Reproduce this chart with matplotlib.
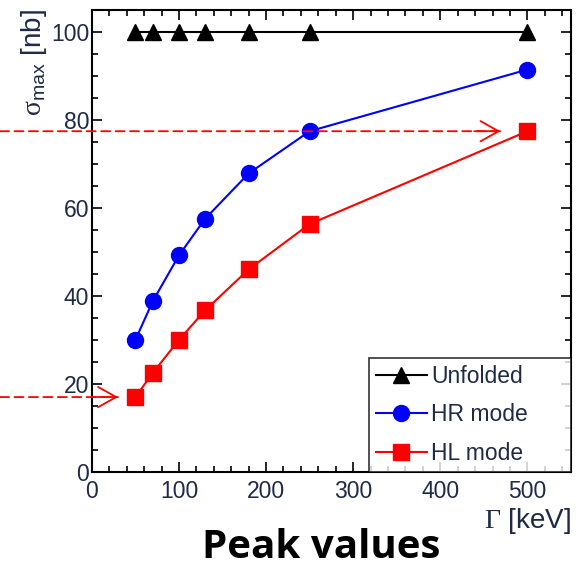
import matplotlib
matplotlib.use("Agg")
import matplotlib.pyplot as plt
from matplotlib.ticker import MultipleLocator

plt.rcParams['font.family'] = ['Liberation Sans', 'DejaVu Sans']
plt.rcParams['mathtext.fontset'] = 'custom'
plt.rcParams['mathtext.rm'] = 'Liberation Sans'
plt.rcParams['mathtext.sf'] = 'Liberation Sans'
plt.rcParams['mathtext.tt'] = 'Liberation Serif'

# Resonance width (keV) and peak cross sections (nb)
gamma_kev = [50, 70, 100, 130, 180, 250, 500]
unfolded = [100, 100, 100, 100, 100, 100, 100]
hr_mode = [30.0, 38.8, 49.2, 57.5, 67.8, 77.4, 91.4]
hl_mode = [17.0, 22.5, 30.0, 36.7, 46.0, 56.3, 77.4]

tick_color = '#1f2a44'

fig = plt.figure(figsize=(5.85, 5.72), dpi=100)
ax = fig.add_axes([0.157, 0.175, 0.819, 0.808])

ax.plot(gamma_kev, unfolded, '-^', color='black', lw=1.5, ms=11, label='Unfolded')
ax.plot(gamma_kev, hr_mode, '-o', color='blue', lw=1.5, ms=11.5, label='HR mode')
ax.plot(gamma_kev, hl_mode, '-s', color='red', lw=1.5, ms=11, label='HL mode')

ax.set_xlim(0, 550)
ax.set_ylim(0, 105)
ax.xaxis.set_major_locator(MultipleLocator(100))
ax.xaxis.set_minor_locator(MultipleLocator(20))
ax.yaxis.set_major_locator(MultipleLocator(20))
ax.yaxis.set_minor_locator(MultipleLocator(5))
ax.tick_params(which='both', direction='in', top=True, right=True,
               labelsize=16.5, labelcolor=tick_color, width=1.2)
ax.tick_params(which='major', length=7)
ax.tick_params(which='minor', length=4)
ax.tick_params(axis='x', pad=6)
ax.tick_params(axis='y', pad=2)
for sp in ax.spines.values():
    sp.set_linewidth(1.5)

ax.set_xlabel(r'$\mathtt{\Gamma}$ [keV]', fontsize=20, color=tick_color, loc='right',
              labelpad=2)
ax.set_ylabel(r'$\mathtt{\sigma}_{\mathsf{max}}$ [nb]', fontsize=20, color=tick_color,
              loc='top', labelpad=1)

leg = ax.legend(loc='lower left', bbox_to_anchor=(0.578, 0.0, 0.422, 0.25),
                mode='expand', fontsize=16.5, frameon=True, fancybox=False,
                borderaxespad=0, handlelength=2.2, handletextpad=0.2,
                labelspacing=0.66, borderpad=0.32, labelcolor=tick_color)
leg.get_frame().set_edgecolor('black')
leg.get_frame().set_linewidth(1.2)

# Dashed guide arrows marking the peak values
def guide_arrow(y, x_tip):
    ax.annotate('', xy=(x_tip, y), xytext=(0.0, y), xycoords='data',
                textcoords=('figure fraction', 'data'), annotation_clip=False,
                arrowprops=dict(arrowstyle='-', color='red', lw=1.3,
                                linestyle=(0, (5, 3)), shrinkA=0, shrinkB=0))
    ax.annotate('', xy=(x_tip, y), xytext=(x_tip - 30, y), xycoords='data',
                annotation_clip=False,
                arrowprops=dict(arrowstyle='->,head_length=0.5,head_width=0.28',
                                color='red', lw=1.3, mutation_scale=26,
                                shrinkA=0, shrinkB=0))

guide_arrow(hl_mode[-1], 469)
guide_arrow(hl_mode[0], 30)

fig.text(0.549, 0.025, 'Peak values', fontsize=29, fontweight='bold',
         family=['Open Sans', 'DejaVu Sans'], ha='center', va='baseline')

fig.savefig('out.png', dpi=100)
